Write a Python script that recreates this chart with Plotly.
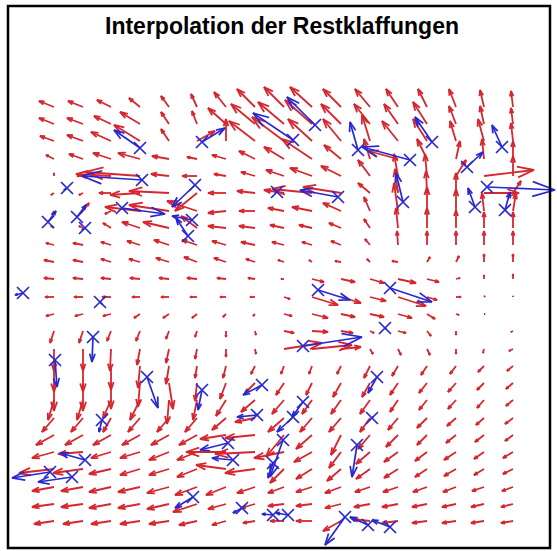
import plotly.graph_objects as go

# ---------------- data ----------------
TITLE = "Interpolation der Restklaffungen"

# regular interpolation grid (map units)
GRID_E = [54, 83, 111, 140, 169, 197, 226, 255, 284, 312, 341, 370, 398, 427, 456, 484, 513]
GRID_N = [444, 427, 410, 392, 375, 358, 340, 323, 306, 289, 272, 254, 237, 220, 202,
          185, 168, 151, 133, 116, 99, 82, 64, 47, 30]

# interpolated residual field (rows: top -> bottom, cols: left -> right)
RED_U = [
    [-15, -15, -14, -11, -8, -6, -12, -18, -20, -22, -18, -15, -12, -9, -7, -4, -2],
    [-15, -16, -17, -20, -8, -5, -18, -24, -26, -27, -20, -16, -14, -14, -7, -4, -2],
    [-14, -16, -20, -26, -8, 18, 0, -26, -32, -24, -18, -8, -16, -14, -6, -6, -2],
    [-8, -14, -18, -22, -17, -10, -14, -16, -20, -30, -17, -6, -30, -10, 4, -2, 0],
    [0, -6, -35, -55, -18, -15, -12, -14, -18, -22, -20, -12, -4, -2, 10, 50, 0],
    [-3, -4, -12, -30, -40, -22, -18, -18, -20, -40, -38, -12, -3, -1, 0, 35, 8],
    [-2, 6, -6, -35, -40, -30, -18, -16, -16, -20, -18, -6, -4, 0, 0, -2, 3],
    [-3, -4, -8, -18, -26, -16, -18, -16, -14, -13, -12, -6, -2, 0, 0, 0, 0],
    [-8, -10, -10, -13, -15, -15, -14, -14, -12, -10, -10, -5, -1, 0, 0, 0, 0],
    [-10, -10, -10, -11, -13, -13, -12, -9, -6, -3, -6, -3, -6, 3, 3, 0, 0],
    [-10, -10, -10, -10, -10, -10, -9, -7, -3, 12, 14, 14, 18, 12, 4, 0, 0],
    [-9, -9, -9, -8, -8, -7, -6, -5, 6, 26, 20, 16, 28, 10, 5, 1, 0],
    [-8, -8, -8, -6, -6, -5, -3, -2, 8, 16, 14, 14, 14, 8, 3, 1, 0],
    [-4, -4, -4, -4, -3, -2, 0, 1, 10, 16, 12, 4, 8, 4, 0, 0, -2],
    [0, 0, -1, -3, -3, -2, 0, 1, 38, 40, 20, 3, 3, 3, 0, -1, -4],
    [0, 0, 0, -2, -3, -2, -3, -4, -3, -3, -4, -6, -6, -6, -6, -6, -6],
    [0, 0, 0, -2, 4, -2, -6, -10, -8, -6, -8, -8, -8, -8, -8, -7, -7],
    [-6, -6, -8, -10, -2, -4, -10, -14, -12, -10, -10, -10, -8, -8, -8, -7, -7],
    [-12, -12, -8, -12, -12, -12, -14, -20, -16, -12, -12, -10, -10, -10, -9, -8, -8],
    [-18, -18, -18, -18, -18, -18, -26, -30, -18, -16, -10, -12, -12, -10, -10, -9, -8],
    [-22, -25, -20, -20, -20, -20, -40, -40, -30, -18, -12, -14, -14, -12, -12, -10, -10],
    [-35, -30, -22, -20, -20, -20, -30, -30, -14, -16, -14, -14, -14, -12, -12, -10, -10],
    [-22, -22, -22, -22, -22, -22, -20, -18, -16, -16, -16, -15, -15, -14, -13, -12, -11],
    [-22, -22, -22, -22, -22, -24, -18, -14, -16, -16, -16, -16, -16, -15, -14, -13, -12],
    [-20, -20, -20, -20, -20, -18, -14, -12, -14, -16, -18, -18, -16, -15, -14, -13, -12],
]
RED_V = [
    [6, 6, 7, 9, 11, 13, 15, 18, 20, 20, 18, 18, 18, 18, 18, 17, 16],
    [6, 6, 8, 12, 12, 13, 16, 20, 22, 24, 20, 20, 20, 22, 18, 18, 16],
    [5, 6, 9, 16, 12, 10, 22, 20, 24, 22, 22, 26, 20, 22, 20, 22, 18],
    [4, 5, 6, 6, 3, 2, 4, 8, 12, 20, 14, 20, 8, 20, 18, 20, 18],
    [3, 0, 2, 4, 2, 0, 2, 4, 6, 8, 10, 16, 22, 22, 16, 6, 20],
    [-2, -2, 0, -2, 2, -18, 0, 2, 3, 4, 6, 10, 24, 22, 20, 0, 12],
    [-4, 8, -3, 4, 6, 10, -2, 0, 3, 4, 8, 14, 28, 24, 22, 18, 18],
    [2, 2, 5, 6, 6, 12, 2, 2, 3, 3, 5, 9, 20, 20, 18, 16, 16],
    [2, 2, 3, 4, 5, 5, 4, 3, 3, 3, 4, 6, 14, 14, 14, 14, 14],
    [2, 2, 3, 3, 4, 5, 4, 3, 2, 2, 1, 3, 1, 5, 6, 8, 8],
    [1, 1, 1, 1, 1, 1, 1, 1, 0, -3, -3, -4, -4, -3, 1, 4, 5],
    [0, 0, 0, 0, 0, 0, 0, 0, -2, -8, -6, -4, -9, -3, 0, 1, 1],
    [-2, -2, -2, -4, -4, -4, -3, -2, -2, -4, -3, -3, -4, -5, -1, 0, 0],
    [-12, -12, -10, -10, -8, -6, -6, -4, -2, -1, -2, -2, -2, -5, -4, 0, -1],
    [-22, -22, -22, -16, -14, -10, -8, -5, 6, 4, 2, -5, -6, -6, -5, -4, -2],
    [-26, -26, -24, -22, -18, -12, -12, -8, -8, -8, -8, -12, -10, -9, -8, -6, -5],
    [-28, -28, -26, -24, -26, -18, -16, -10, -12, -12, -14, -14, -12, -10, -9, -7, -6],
    [-20, -20, -18, -20, -24, -20, -16, -12, -14, -14, -14, -14, -12, -10, -9, -8, -6],
    [-14, -14, -14, -14, -14, -14, -12, -4, -14, -14, -14, -14, -12, -10, -8, -7, -6],
    [-10, -10, -10, -10, -10, -10, -4, -3, -22, -14, -20, -14, -12, -10, -8, -7, -6],
    [-6, -2, -6, -6, -8, -8, 0, -2, -6, -10, -16, -12, -10, -9, -8, -7, -6],
    [-4, -4, -5, -6, -6, -8, 4, -4, -14, -10, -12, -10, -9, -8, -7, -6, -5],
    [-4, -4, -5, -5, -6, -8, -8, -6, -6, -5, -6, -5, -5, -5, -5, -4, -4],
    [-3, -3, -4, -4, -5, -8, -5, -4, -2, -2, -4, -3, -3, -3, -3, -3, -3],
    [-3, -3, -3, -3, -3, -4, -4, -2, 0, 0, -10, 2, -2, -2, -2, -2, -2],
]

# measured residuals at control points
BLUE_E = [140, 202, 142, 67, 48, 77, 85, 122, 195, 192, 188, 277, 338, 315, 293, 358, 410, 432,
          403, 467, 502, 487, 475, 505, 23, 100, 93, 55, 147, 202, 262, 318, 390, 385, 303, 377,
          102, 257, 303, 293, 372, 228, 283, 357, 85, 50, 72, 193, 242, 273, 288, 345, 368, 390,
          233, 273]
BLUE_N = [403, 409, 371, 363, 329, 334, 323, 343, 366, 331, 315, 359, 354, 426, 411, 401, 391, 409,
          349, 384, 404, 364, 344, 341, 258, 249, 214, 191, 174, 161, 166, 261, 263, 223, 205, 174,
          131, 136, 149, 134, 133, 108, 111, 106, 91, 79, 74, 54, 43, 36, 36, 34, 26, 24,
          91, 88]
BLUE_U = [-26, 23, -60, -3, 8, 9, -3, 43, -23, -20, -12, -2, -38, -28, -40, -8, -48, -17,
          -7, 16, -10, 68, -7, 5, -8, 2, -1, 2, 11, -4, -19, 32, 42, 1, 59, -9,
          -3, -20, -11, -16, 1, -28, -13, -5, -25, -38, -34, -18, -9, -11, -12, -20, -18, -18,
          -21, -5]
BLUE_V = [18, 14, 4, -2, 11, 12, -2, -6, -22, 4, 18, 0, 7, 28, 27, 28, 13, 25,
          29, 15, 22, -3, 19, 18, -2, -2, -25, -27, -31, -20, -10, -10, -14, -1, 9, -16,
          -12, -2, -15, -15, 1, -7, -37, -32, 7, -6, -5, -11, -5, 1, 2, -28, 8, 7,
          2, -15]

RED = "rgb(214,38,46)"
BLUE = "rgb(40,40,210)"


def quiver_lines(xs, ys, us, vs, alpha=0.33, beta=0.33):
    lx, ly = [], []
    for x, y, u, v in zip(xs, ys, us, vs):
        if u == 0 and v == 0:
            continue
        tx, ty = x + u, y + v
        lx += [x, tx, None]
        ly += [y, ty, None]
        lx += [tx - alpha * (u + beta * v), tx, tx - alpha * (u - beta * v), None]
        ly += [ty - alpha * (v - beta * u), ty, ty - alpha * (v + beta * u), None]
    return lx, ly


gx, gy, gu, gv = [], [], [], []
for r, n in enumerate(GRID_N):
    for c, e in enumerate(GRID_E):
        gx.append(e)
        gy.append(n)
        gu.append(RED_U[r][c])
        gv.append(RED_V[r][c])

rx, ry = quiver_lines(gx, gy, gu, gv)
bx, by = quiver_lines(BLUE_E, BLUE_N, BLUE_U, BLUE_V)

fig = go.Figure()
fig.add_trace(go.Scatter(x=rx, y=ry, mode="lines", line=dict(color=RED, width=1.8),
                         hoverinfo="skip", showlegend=False))
fig.add_trace(go.Scatter(x=bx, y=by, mode="lines", line=dict(color=BLUE, width=1.7),
                         hoverinfo="skip", showlegend=False))
fig.add_trace(go.Scatter(x=BLUE_E, y=BLUE_N, mode="markers",
                         marker=dict(symbol="x-thin", size=12, color=BLUE,
                                     line=dict(color=BLUE, width=1.7)),
                         hoverinfo="skip", showlegend=False))

fig.update_layout(
    width=557, height=551,
    margin=dict(l=0, r=0, t=0, b=0),
    paper_bgcolor="white", plot_bgcolor="white",
    xaxis=dict(range=[0, 557], visible=False, fixedrange=True),
    yaxis=dict(range=[0, 551], visible=False, fixedrange=True),
    annotations=[dict(text="<b>" + TITLE + "</b>", xref="paper", yref="paper",
                      x=282 / 557, y=1 - 26 / 551, xanchor="center", yanchor="middle",
                      showarrow=False,
                      font=dict(family="Liberation Sans, Arial, sans-serif", size=23, color="black"))],
    shapes=[dict(type="rect", xref="paper", yref="paper",
                 x0=8 / 557, x1=550 / 557, y0=1 - 548 / 551, y1=1 - 6 / 551,
                 line=dict(color="black", width=2.5))],
)

fig.write_html("out.html", config={"displayModeBar": False},
               post_script="document.body.style.margin='0px';document.body.style.overflow='hidden';")
